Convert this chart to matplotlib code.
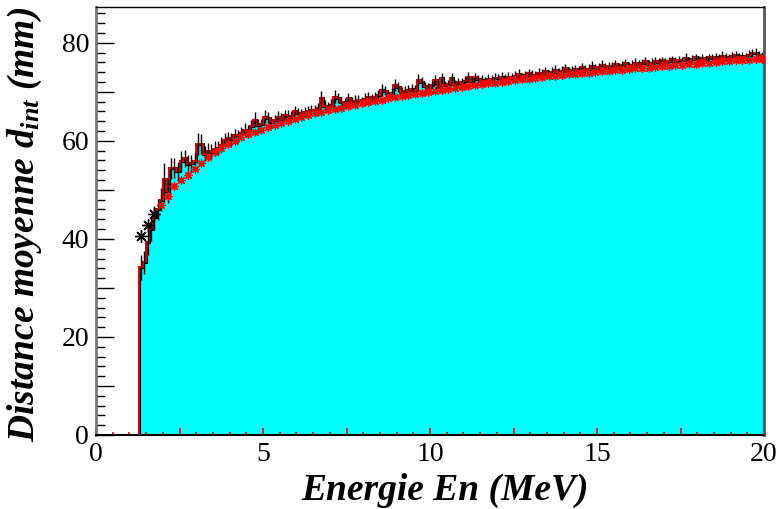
import numpy as np
import matplotlib
matplotlib.use("Agg")
import matplotlib.pyplot as plt
from matplotlib.ticker import MultipleLocator, FuncFormatter

plt.rcParams['font.family'] = ['Liberation Serif', 'DejaVu Serif']
plt.rcParams['mathtext.fontset'] = 'custom'
plt.rcParams['mathtext.it'] = 'Liberation Serif:italic:bold'
plt.rcParams['mathtext.rm'] = 'Liberation Serif:bold'

# histogram: 0.1 MeV bins starting at 1.3 MeV
e_lo = 1.3
bin_w = 0.1

# mean distance per bin (cyan histogram)
hist_vals = [
    34.2, 35.2, 39.4, 42.0, 44.4, 46.0, 48.0, 52.2, 49.8, 54.4,
    54.4, 53.8, 55.9, 56.4, 55.2, 55.4, 55.9, 59.4, 59.4, 57.4,
    57.9, 57.8, 58.4, 58.6, 59.2, 60.2, 60.6, 60.3, 61.2, 61.0,
    61.6, 62.3, 62.0, 63.1, 64.3, 63.2, 63.4, 64.9, 64.6, 63.8,
    64.2, 64.8, 64.5, 65.3, 65.0, 64.9, 66.0, 65.6, 65.3, 65.9,
    66.0, 66.3, 66.2, 66.8, 68.8, 67.2, 66.9, 67.4, 69.0, 68.7,
    68.0, 67.6, 68.8, 68.0, 68.2, 68.4, 68.0, 68.6, 68.9, 68.7,
    69.0, 69.3, 70.4, 70.2, 69.4, 69.8, 71.4, 71.0, 70.0, 70.2,
    70.4, 70.6, 70.3, 72.4, 72.0, 71.2, 70.8, 71.4, 72.4, 71.0,
    72.9, 71.4, 71.6, 72.8, 71.5, 72.0, 71.8, 72.3, 73.0, 72.2,
    73.0, 72.6, 72.4, 72.2, 72.7, 72.5, 72.9, 72.8, 73.1, 72.7,
    73.1, 72.9, 73.3, 73.6, 73.0, 73.4, 73.8, 73.5, 73.3, 73.9,
    73.8, 74.2, 73.7, 74.1, 74.5, 74.0, 74.3, 74.8, 74.2, 74.4,
    74.6, 74.3, 75.0, 74.5, 74.7, 75.2, 74.8, 75.0, 75.5, 74.9,
    75.3, 75.1, 75.6, 75.0, 75.4, 75.8, 75.2, 75.5, 75.9, 75.6,
    75.8, 76.3, 75.6, 75.9, 76.2, 76.0, 76.4, 75.9, 76.3, 76.6,
    76.2, 76.5, 76.4, 76.8, 76.3, 76.7, 77.0, 76.5, 76.8, 76.6,
    77.0, 76.8, 77.2, 76.9, 77.4, 77.1, 76.9, 77.3, 77.5, 77.2,
    77.4, 77.2, 77.6, 77.9, 78.0, 77.6, 77.4,
]

# statistical error per bin
hist_err = [
    2.5, 2.4, 2.6, 2.4, 2.3, 2.2, 2.3, 3.2, 2.4, 2.2,
    2.0, 1.9, 2.1, 1.8, 1.9, 1.8, 1.7, 2.3, 2.0, 1.6,
    1.6, 1.5, 1.5, 1.4, 1.6, 1.4, 1.3, 1.4, 1.3, 1.3,
    1.2, 1.3, 1.2, 1.2, 1.5, 1.2, 1.1, 1.3, 1.2, 1.1,
    1.1, 1.2, 1.1, 1.0, 1.2, 1.1, 1.2, 1.0, 1.1, 1.0,
    1.1, 1.0, 1.1, 1.0, 1.4, 1.1, 1.0, 1.1, 1.3, 1.0,
    1.0, 1.1, 1.0, 1.0, 1.1, 0.9, 1.0, 1.1, 1.0, 0.9,
    1.0, 1.0, 1.2, 0.9, 1.0, 1.0, 1.3, 1.0, 0.9, 1.0,
    1.0, 0.9, 1.0, 1.2, 1.0, 0.9, 1.0, 0.9, 1.1, 0.9,
    1.0, 0.9, 0.9, 1.0, 0.9, 0.9, 1.0, 0.9, 1.0, 0.9,
    0.9, 0.9, 1.0, 0.9, 0.9, 0.9, 1.0, 0.9, 0.9, 0.9,
    0.9, 0.9, 0.9, 1.0, 0.9, 0.9, 0.9, 0.9, 1.0, 0.9,
    0.9, 0.9, 0.8, 0.9, 1.0, 0.9, 0.9, 0.9, 0.8, 0.9,
    0.9, 0.8, 0.9, 0.9, 0.9, 1.1, 0.9, 0.8, 0.9, 0.9,
    0.8, 0.9, 0.9, 0.8, 0.9, 0.9, 0.8, 0.9, 0.9, 0.8,
    0.9, 0.8, 0.9, 0.9, 0.8, 0.9, 0.8, 0.9, 0.9, 0.8,
    0.8, 0.9, 0.8, 1.1, 0.8, 0.9, 0.8, 0.8, 0.9, 0.8,
    0.8, 0.9, 0.8, 0.8, 0.9, 0.8, 0.8, 0.9, 0.8, 0.8,
    0.8, 0.8, 0.9, 0.8, 1.0, 0.8, 0.8,
]

# smooth curve (asterisk points), one per bin centre
curve_vals = [
    40.6, 41.7, 42.8, 44.0, 45.0, 46.0, 46.9, 47.8, 48.7, 49.5,
    50.7, 51.4, 52.0, 52.6, 53.1, 53.7, 54.3, 54.9, 55.5, 56.0,
    56.7, 57.2, 57.7, 58.1, 58.5, 58.9, 59.3, 59.6, 59.9, 60.2,
    60.7, 61.0, 61.3, 61.6, 61.8, 62.1, 62.3, 62.6, 62.8, 63.0,
    63.3, 63.5, 63.7, 63.9, 64.1, 64.3, 64.5, 64.7, 64.9, 65.1,
    65.3, 65.4, 65.6, 65.8, 65.9, 66.1, 66.2, 66.4, 66.5, 66.7,
    66.8, 67.0, 67.1, 67.3, 67.4, 67.5, 67.7, 67.8, 67.9, 68.1,
    68.2, 68.3, 68.4, 68.6, 68.7, 68.8, 68.9, 69.0, 69.2, 69.3,
    69.4, 69.5, 69.6, 69.7, 69.8, 69.9, 70.0, 70.1, 70.2, 70.3,
    70.4, 70.5, 70.6, 70.7, 70.8, 70.9, 71.0, 71.1, 71.2, 71.3,
    71.4, 71.5, 71.6, 71.7, 71.8, 71.8, 71.9, 72.0, 72.1, 72.2,
    72.3, 72.3, 72.4, 72.5, 72.6, 72.7, 72.7, 72.8, 72.9, 73.0,
    73.0, 73.1, 73.2, 73.2, 73.3, 73.4, 73.5, 73.5, 73.6, 73.7,
    73.6, 73.7, 73.8, 73.8, 73.9, 74.0, 74.0, 74.1, 74.2, 74.2,
    74.3, 74.4, 74.4, 74.5, 74.5, 74.6, 74.7, 74.7, 74.8, 74.8,
    74.8, 74.9, 74.9, 75.0, 75.0, 75.1, 75.2, 75.2, 75.3, 75.3,
    75.4, 75.4, 75.5, 75.6, 75.6, 75.7, 75.7, 75.8, 75.8, 75.9,
    75.9, 76.0, 76.1, 76.1, 76.2, 76.2, 76.3, 76.3, 76.4, 76.4,
    76.4, 76.4, 76.5, 76.5, 76.6, 76.6, 76.7,
]

n_bins = len(hist_vals)
edges = e_lo + bin_w * np.arange(n_bins + 1)
centers = 0.5 * (edges[:-1] + edges[1:])
curve = np.array(curve_vals)

fig = plt.figure(figsize=(7.77, 5.09), dpi=100)
ax = fig.add_axes([96 / 777, 74 / 509, 668 / 777, 428 / 509])

# histogram with cyan fill and black/red outline
ax.stairs(hist_vals, edges, fill=True, color='#00ffff', baseline=0, zorder=1)
ax.stairs(hist_vals, edges, color='black', lw=2.2, baseline=0, zorder=2)
ax.stairs(hist_vals, edges, color='red', lw=1.3, baseline=0, zorder=3)
ax.errorbar(centers, hist_vals, yerr=hist_err, fmt='none', ecolor='black',
            elinewidth=1.0, capsize=0, zorder=3.5)

# asterisk points along the mean curve (every other bin)
pc = centers[::2]
py = curve[::2]
low = pc < 1.9
ax.plot(pc[~low], py[~low], ls='none', marker=(8, 2, 0), ms=6,
        mew=0.9, color='red', zorder=4)
ax.plot(pc[low], py[low], ls='none', marker=(8, 2, 0), ms=9,
        mew=1.0, color='black', zorder=4)

ax.set_xlim(0, 20)
ax.set_ylim(0, 87.3)

ax.xaxis.set_major_locator(MultipleLocator(2.5))
ax.xaxis.set_minor_locator(MultipleLocator(0.5))
ax.xaxis.set_major_formatter(FuncFormatter(
    lambda v, p: f"{v:g}" if abs(v % 5) < 1e-6 else ""))
ax.yaxis.set_major_locator(MultipleLocator(10))
ax.yaxis.set_minor_locator(MultipleLocator(2))
ax.yaxis.set_major_formatter(FuncFormatter(
    lambda v, p: f"{v:g}" if abs(v % 20) < 1e-6 else ""))

ax.tick_params(axis='x', which='major', direction='in', length=5, width=1.2,
               color='red', labelsize=20, pad=5)
ax.tick_params(axis='x', which='minor', direction='in', length=2.5, width=1.2,
               color='red')
ax.tick_params(axis='y', which='major', direction='in', length=13, width=1,
               labelsize=20, pad=5)
ax.tick_params(axis='y', which='minor', direction='in', length=6.5, width=1)

ax.spines['left'].set_color('#777777')
ax.spines['left'].set_linewidth(2.0)
ax.spines['right'].set_color('#555555')
ax.spines['right'].set_linewidth(2.0)
ax.spines['top'].set_linewidth(1.0)
ax.spines['bottom'].set_linewidth(1.5)

fig.text(445 / 777, 1 - 490 / 509, 'Energie En (MeV)', fontsize=27,
         fontweight='bold', fontstyle='italic', ha='center', va='center')
fig.text(25 / 777, 1 - 224 / 509, 'Distance moyenne $d_{int}$ (mm)',
         fontsize=27, fontweight='bold', fontstyle='italic', rotation=90,
         ha='center', va='center')

fig.savefig('out.png', dpi=100)
